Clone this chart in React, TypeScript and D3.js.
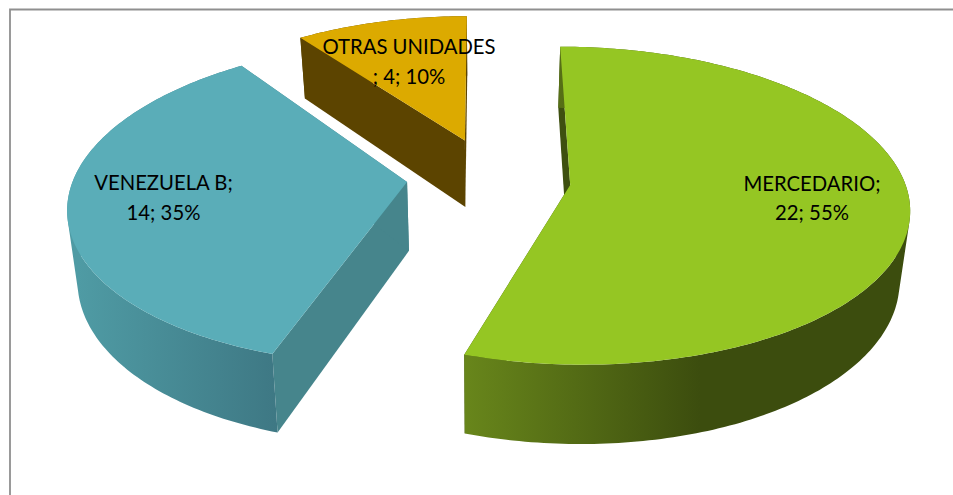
import React from "react";
import * as d3 from "d3";

const categories = ["MERCEDARIO", "VENEZUELA B", "OTRAS UNIDADES"];
const values = [22, 14, 4];
const percents = [55, 35, 10];
const topColors = ["#95c623", "#5aadb8", "#dcaa00"];
const wallColors = ["#3e5010", "#46858c", "#5c4400"];
const rimStops = [
  ["#68861b", "#3c4d0e"],
  ["#4f9ba4", "#3e7884"],
  ["#5c4400", "#5c4400"],
];

// One slice's labels: the break in the third comes from the reference's wrapped text
const labelLines = categories.map((c, i) =>
  i === 2
    ? [c, `; ${values[i]}; ${percents[i]}%`]
    : [`${c};`, `${values[i]}; ${percents[i]}%`]
);

const W = 953;
const H = 495;
// Perspective projection of the tilted pie
const VP_X = 483;
const Y0 = 183.5;
const RX = 335;
const RY = 155.9;
const K = 0.1295;
const DEPTH = 69;
const BOTTOM_SHRINK = 0.975;
// per slice: explode u, explode v, radius scale, x shear (px per unit v), y stretch
const explode: [number, number, number, number, number][] = [
  [0.26, 0.01, 1, 0, 1],
  [-0.227, -0.01, 1, -6.5, 1.02],
  [-0.056, -0.286, 0.96, 0, 1],
];
const rimGradientX: [number, number][] = [
  [465, 700],
  [78, 277],
  [300, 467],
];
const labelX = [812, 163.5, 409];
const labelY = [191, 190, 54];
const LINE_GAP = [29, 30, 30];

type Pt = [number, number];

const line = d3.line<Pt>().x((d) => d[0]).y((d) => d[1]);
const closed = (pts: Pt[]) => (line(pts) ?? "") + "Z";
// All quads wound the same way, so that one nonzero-filled path is their union
const wound = (pts: Pt[]) => (d3.polygonArea(pts) < 0 ? pts.slice().reverse() : pts);

export default function App() {
  const arcs = d3.pie<number>().sort(null).startAngle(0).endAngle(2 * Math.PI)(values);

  const slices = arcs.map((a, i) => {
    const [u0, v0, s, shear, stretch] = explode[i];
    const project = (u: number, v: number, dv: number, low: boolean): Pt => {
      const w = 1 / (1 - K * v);
      const x = VP_X + RX * u * w + shear * dv;
      const y = Y0 + RY * (v0 + (v - v0) * stretch) * w;
      if (!low) return [x, y];
      return [VP_X + (x - VP_X) * BOTTOM_SHRINK, y + DEPTH * w];
    };
    const at = (t: number, low: boolean) =>
      project(u0 + s * Math.sin(t), v0 - s * Math.cos(t), -s * Math.cos(t), low);
    const n = Math.max(12, Math.ceil((a.endAngle - a.startAngle) * 60));
    const ts = d3.range(n + 1).map((k) => a.startAngle + ((a.endAngle - a.startAngle) * k) / n);
    const topArc = ts.map((t) => at(t, false));
    const lowArc = ts.map((t) => at(t, true));
    const apexTop = project(u0, v0, 0, false);
    const apexLow = project(u0, v0, 0, true);
    const wall = (t: number) => closed([apexTop, at(t, false), at(t, true), apexLow]);
    return {
      i,
      top: closed([apexTop, ...topArc]),
      rim: d3
        .range(n)
        .map((k) => closed(wound([topArc[k], topArc[k + 1], lowArc[k + 1], lowArc[k]])))
        .join(""),
      walls: [wall(a.startAngle), wall(a.endAngle)],
    };
  });

  const drawOrder = [2, 1, 0];

  return (
    <svg
      width={W}
      height={H}
      viewBox={`0 0 ${W} ${H}`}
      style={{ position: "absolute", left: 0, top: 0, background: "#fff" }}
    >
      <defs>
        {rimStops.map((st, i) => (
          <linearGradient
            key={i}
            id={`rim${i}`}
            gradientUnits="userSpaceOnUse"
            x1={rimGradientX[i][0]}
            x2={rimGradientX[i][1]}
            y1={0}
            y2={0}
          >
            <stop offset="0" stopColor={st[0]} />
            <stop offset="1" stopColor={st[1]} />
          </linearGradient>
        ))}
      </defs>
      <path d="M953,9.5H10V495" fill="none" stroke="#8f8f8f" strokeWidth={1.8} />
      {drawOrder.map((idx) => {
        const s = slices[idx];
        return (
          <g key={idx}>
            {s.walls.map((d, k) => (
              <path key={k} d={d} fill={wallColors[idx]} />
            ))}
            <path d={s.rim} fill={`url(#rim${idx})`} fillRule="nonzero" />
            <path d={s.top} fill={topColors[idx]} />
          </g>
        );
      })}
      {labelLines.map((lines, i) => (
        <text
          key={i}
          textAnchor="middle"
          fontFamily="Lato, 'Open Sans', sans-serif"
          fontSize={20.3}
          fill="#000"
        >
          {lines.map((t, k) => (
            <tspan key={k} x={labelX[i]} y={labelY[i] + k * LINE_GAP[i]}>
              {t}
            </tspan>
          ))}
        </text>
      ))}
    </svg>
  );
}
